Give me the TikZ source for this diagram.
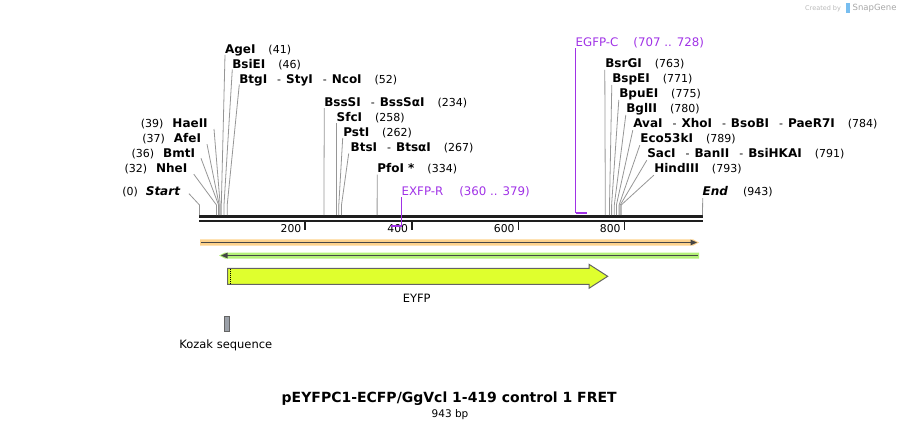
\documentclass[tikz,border=0pt]{standalone}
\usepackage{fontspec}
\setmainfont{DejaVu Sans}
\definecolor{primer}{RGB}{160,50,230}
\definecolor{cutgray}{RGB}{150,150,150}
\definecolor{bbcol}{RGB}{30,30,30}
\definecolor{orhalo}{RGB}{253,210,140}
\definecolor{grhalo}{RGB}{180,240,120}
\definecolor{featline}{RGB}{70,70,70}
\definecolor{eyfp}{RGB}{223,255,46}
\definecolor{outl}{RGB}{100,100,100}
\definecolor{kozak}{RGB}{155,160,168}
\definecolor{logogray}{RGB}{185,185,185}
\definecolor{logoblue}{RGB}{120,190,240}
\newcommand\nmb[1]{{\fontsize{12}{14}\selectfont\bfseries #1}}
\newcommand\numb[1]{{\fontsize{11}{13}\selectfont(#1)}}
\newcommand\enz[2]{\nmb{#1}\hspace{13pt}\numb{#2}}
\newcommand\dsh{\hspace{10pt}{\fontsize{11}{13}\selectfont-}\hspace{5pt}}
\begin{document}
\begin{tikzpicture}[x=1pt,y=-1pt,
  lbl/.style={inner sep=0pt, outer sep=0pt, anchor=base west},
  lblr/.style={inner sep=0pt, outer sep=0pt, anchor=base east},
  cut/.style={draw=cutgray, line width=0.8pt},
  plbl/.style={inner sep=0pt, outer sep=0pt, anchor=base west, text=primer, font=\fontsize{11.8}{14}\selectfont},
  pline/.style={draw=primer, line width=1pt},
  tick/.style={draw=bbcol, line width=1.6pt},
  ticklbl/.style={inner sep=0pt, anchor=base east, font=\fontsize{10.8}{12}\selectfont},
  featlbl/.style={inner sep=0pt, anchor=base, font=\fontsize{11.5}{13}\selectfont}]
\useasboundingbox (0,0) rectangle (902,426);

% ---------- logo ----------
\node[inner sep=0pt, anchor=base west, text=logogray, font=\fontsize{6.5}{8}\selectfont] (cr) at (805,10) {Created by};
\fill[logoblue] (846,2.5) rectangle (849.5,13);
\node[inner sep=0pt, anchor=base west, text=logogray!90!black, font=\fontsize{8.5}{10}\selectfont] (sg) at (852.5,10.5) {SnapGene};

% ---------- backbone ----------
\coordinate (bbL) at (199,216.5);
\coordinate (bbR) at (702.5,216.5);
\coordinate (bbL2) at (199,221.3);
\coordinate (bbR2) at (702.5,221.3);
\draw[bbcol, line width=2.6pt] (bbL) -- (bbR);
\draw[bbcol, line width=2pt] (bbL2) -- (bbR2);

% ticks
\foreach \x/\t in {305/200,411.7/400,518.3/600,624.3/800}{
  \draw[tick] (\x,222.3) -- (\x,229.5);
  \node[ticklbl] (t\t) at (\x-3.5,232.7) {\t};
}

% ---------- cut site coordinates ----------
\foreach \n/\x in {0/199.5,32/216.5,36/218.6,37/219.2,39/220.2,41/221.3,46/224,52/227.2,234/323.9,258/336.7,262/338.8,267/341.5,334/377.1,763/605.3,771/609.5,775/611.6,780/614.3,784/616.4,789/619.1,791/620.2,793/621.2,943/702.5}{
  \coordinate (s\n) at (\x,205);
  \coordinate (f\n) at (\x,215.2);
}

\node[lblr] (lStart) at (180,195.7) {\numb{0}\hspace{8pt}\nmb{\itshape Start}};
\node[lblr] (lNhe) at (187.3,172.7) {\numb{32}\hspace{9pt}\nmb{NheI}};
\node[lblr] (lBmt) at (195,157.3) {\numb{36}\hspace{9pt}\nmb{BmtI}};
\node[lblr] (lAfe) at (201,142.7) {\numb{37}\hspace{9pt}\nmb{AfeI}};
\node[lblr] (lHae) at (207.7,127) {\numb{39}\hspace{9pt}\nmb{HaeII}};

\draw[cut] ([xshift=9pt,yshift=2pt]lStart.base east) -- (s0) -- (f0);
\draw[cut] ([xshift=6.5pt,yshift=-1.5pt]lNhe.base east) -- (s32) -- (f32);
\draw[cut] ([xshift=6pt,yshift=-1pt]lBmt.base east) -- (s36) -- (f36);
\draw[cut] ([xshift=6pt,yshift=-1.5pt]lAfe.base east) -- (s37) -- (f37);
\draw[cut] ([xshift=6.3pt,yshift=-2pt]lHae.base east) -- (s39) -- (f39);

\node[lbl] (lAge) at (225,53.3) {\enz{AgeI}{41}};
\node[lbl] (lBsiE) at (232.3,68) {\enz{BsiEI}{46}};
\node[lbl] (lBtg) at (239.3,83) {\nmb{BtgI}\dsh\nmb{StyI}\dsh\nmb{NcoI}\hspace{13pt}\numb{52}};
\draw[cut] ([yshift=-1.5pt]lAge.base west) -- (s41) -- (f41);
\draw[cut] ([yshift=-1.5pt]lBsiE.base west) -- (s46) -- (f46);
\draw[cut] ([yshift=-1.5pt]lBtg.base west) -- (s52) -- (f52);

\node[lbl] (lBssS) at (324.3,106) {\nmb{BssSI}\dsh\nmb{BssSαI}\hspace{13pt}\numb{234}};
\node[lbl] (lSfc) at (336.7,121) {\enz{SfcI}{258}};
\node[lbl] (lPst) at (343.3,136) {\enz{PstI}{262}};
\node[lbl] (lBts) at (350.7,151.5) {\nmb{BtsI}\dsh\nmb{BtsαI}\hspace{13pt}\numb{267}};
\node[lbl] (lPfo) at (377.3,172.7) {\enz{PfoI *}{334}};
\draw[cut] ([yshift=-2pt]lBssS.base west) -- (s234) -- (f234);
\draw[cut] ([yshift=-2pt]lSfc.base west) -- (s258) -- (f258);
\draw[cut] ([xshift=-0.6pt,yshift=-2pt]lPst.base west) -- (s262) -- (f262);
\draw[cut] ([xshift=-2pt,yshift=-2pt]lBts.base west) -- (s267) -- (f267);
\draw[cut] ([yshift=-2pt]lPfo.base west) -- (s334) -- (f334);

% ---------- right cut sites ----------
\node[lbl] (lBsrG) at (605.3,67.3) {\enz{BsrGI}{763}};
\node[lbl] (lBspE) at (612.3,82.5) {\enz{BspEI}{771}};
\node[lbl] (lBpuE) at (619.3,97.5) {\enz{BpuEI}{775}};
\node[lbl] (lBgl) at (626.3,112.5) {\enz{BglII}{780}};
\node[lbl] (lAva) at (633.3,127.7) {\nmb{AvaI}\dsh\nmb{XhoI}\dsh\nmb{BsoBI}\dsh\nmb{PaeR7I}\hspace{13pt}\numb{784}};
\node[lbl] (lEco) at (640.3,142.7) {\enz{Eco53kI}{789}};
\node[lbl] (lSac) at (647.3,157.7) {\nmb{SacI}\dsh\nmb{BanII}\dsh\nmb{BsiHKAI}\hspace{13pt}\numb{791}};
\node[lbl] (lHind) at (654.3,172.7) {\enz{HindIII}{793}};
\node[lbl] (lEnd) at (702.7,195.7) {\nmb{\itshape End}\hspace{15pt}\numb{943}};
\foreach \l/\n in {lBsrG/763,lBspE/771,lBpuE/775,lBgl/780,lAva/784,lEco/789,lSac/791,lHind/793}{
  \draw[cut] ([xshift=-0.5pt,yshift=-2.5pt]\l.base west) -- (s\n) -- (f\n);
}
\draw[cut] ([yshift=-2.5pt]lEnd.base west) -- (f943);

% ---------- primers ----------
\node[plbl] (pEGFP) at (575.7,46) {EGFP-C\hspace{15pt}(707 .. 728)};
\coordinate (pE1) at (575.5,212.5);
\coordinate (pE2) at (586.5,212.5);
\draw[pline] ([xshift=-0.2pt,yshift=-2pt]pEGFP.base west) -- (pE1);
\draw[primer, line width=2pt] (pE1) -- (pE2);

\node[plbl] (pEXFP) at (401.7,195) {EXFP-R\hspace{16pt}(360 .. 379)};
\coordinate (pX1) at (401.5,225.7);
\coordinate (pX2) at (391,225.7);
\draw[pline] ([xshift=-0.2pt,yshift=-2pt]pEXFP.base west) -- (pX1);
\draw[primer, line width=2pt] (pX1) -- (pX2);

% ---------- feature arrows ----------
\fill[orhalo] (200,239.3) -- (693,239.3) -- (699,242.5) -- (693,245.7) -- (200,245.7) -- cycle;
\draw[featline, line width=1.6pt] (201,242.5) -- (692,242.5);
\fill[featline] (690.5,239.6) -- (697,242.5) -- (690.5,245.4) -- cycle;

\fill[grhalo] (219,255.5) -- (225,252.5) -- (699,252.5) -- (699,258.5) -- (225,258.5) -- cycle;
\draw[featline, line width=1.6pt] (226,255.5) -- (698,255.5);
\fill[featline] (227.5,252.6) -- (221,255.5) -- (227.5,258.4) -- cycle;

% EYFP
\draw[fill=eyfp, draw=outl, line width=1pt, line join=miter]
  (227.5,268.3) -- (589,268.3) -- (589,264.3) -- (607.7,276.3) -- (589,288.3) -- (589,284.3) -- (227.5,284.3) -- cycle;
\draw[black, line width=0.8pt, dash pattern=on 1pt off 1pt] (230,268.8) -- (230,284);
\node[featlbl] (nEYFP) at (416.7,302.5) {EYFP};

% Kozak
\draw[fill=kozak, draw=outl, line width=0.8pt] (224.3,316) rectangle (229,331);
\node[featlbl] (nKozak) at (225.8,348) {Kozak sequence};

% ---------- title ----------
\node[inner sep=0pt, anchor=base, font=\fontsize{14}{16}\selectfont\bfseries] (title) at (449.2,402.7) {pEYFPC1-ECFP/GgVcl 1-419 control 1 FRET};
\node[inner sep=0pt, anchor=base, font=\fontsize{10.5}{12}\selectfont] (bp) at (450,417.5) {943 bp};
\end{tikzpicture}
\end{document}
